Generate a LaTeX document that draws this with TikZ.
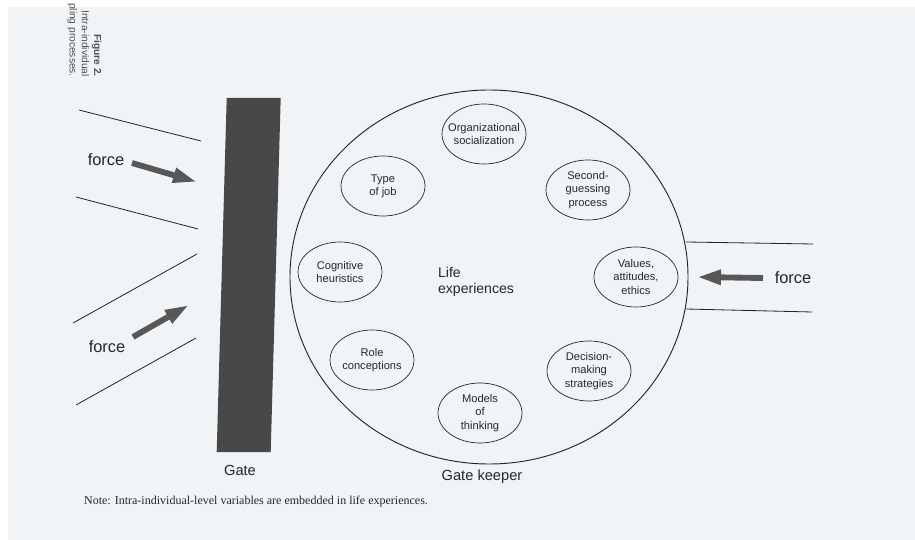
\documentclass[tikz,border=0pt]{standalone}
\usepackage{fontspec}
\setmainfont{Liberation Sans}
\newfontfamily\notefont{Liberation Serif}
\usetikzlibrary{shapes.geometric,arrows.meta}
\definecolor{paper}{RGB}{241,244,246}
\definecolor{ink}{RGB}{38,38,38}
\definecolor{gatefill}{RGB}{72,72,72}
\definecolor{forcefill}{RGB}{88,88,88}
\tikzset{
  factor/.style={draw=ink, ellipse, line width=0.6pt, minimum width=2.52cm, minimum height=1.8cm,
    inner xsep=-8pt, inner ysep=-4pt, align=center, text=ink, font=\fontsize{9.5}{11.3}\selectfont},
  wall/.style={draw=ink, line width=0.7pt},
  push/.style={draw=forcefill, line width=5pt, -{Triangle[length=0.72cm,width=0.42cm]}},
  forcetext/.style={text=ink, font=\fontsize{14}{16}\selectfont},
  bigtext/.style={text=ink, font=\fontsize{12.5}{15}\selectfont},
}
\begin{document}
\begin{tikzpicture}[x=0.03cm, y=-0.03cm]
  % page
  \useasboundingbox (0,0) rectangle (915,540);
  \fill[paper] (8,7) rectangle (915,540);
  % caption, turned on its side
  \node[rotate=-90, anchor=east, align=right, inner sep=0pt, text=ink!80,
        font=\fontsize{8.7}{10.4}\selectfont] (caption) at (84.5,77)
        {\textbf{Figure 2.}\\Intra-individual\\pling processes.};
  % gate
  \fill[gatefill] (226.7,98) -- (280.7,98) -- (270.7,452) -- (216.7,452) -- cycle;
  \node[bigtext] (gate) at (240,470) {Gate};
  % forces from the left
  \draw[wall] (79,110) -- (201,141)  (76,197) -- (198,229)
              (73,323) -- (197,254)  (76,405) -- (196,338);
  \draw[push] (132,163) -- (197,182);
  \draw[push] (133,337) -- (189,305);
  \node[forcetext] (forceup) at (106,160) {force};
  \node[forcetext] (forcelow) at (107,347) {force};
  % gate keeper
  \node[draw=ink, ellipse, line width=0.8pt, minimum width=11.94cm, minimum height=11.22cm] (keeper) at (489,277) {};
  \node[bigtext] (keepername) at (482,477) {Gate keeper};
  \node[text=ink, anchor=west, align=left, font=\fontsize{12}{13.6}\selectfont] (life) at (434,282) {Life\\experiences};
  \node[factor] (orgsoc) at (484,134) {Organizational\\socialization};
  \node[factor] (job) at (383,186) {Type\\of job};
  \node[factor] (second) at (588,190) {Second-\\guessing\\process};
  \node[factor] (cognitive) at (340,272) {Cognitive\\heuristics};
  \node[factor] (values) at (636,277) {Values,\\attitudes,\\ethics};
  \node[factor] (role) at (372,360) {Role\\conceptions};
  \node[factor] (decision) at (589,371) {Decision-\\making\\strategies};
  \node[factor] (models) at (480,413) {Models\\of\\thinking};
  % force from the right
  \draw[wall] (686,242) -- (813,244)  (686,309) -- (812,312);
  \draw[push] (763,278) -- (697,277);
  \node[forcetext] (forceright) at (793,278) {force};
  % note
  \node[anchor=west, text=ink, font=\notefont\fontsize{10.25}{12}\selectfont] (note) at (80,502)
    {Note: Intra-individual-level variables are embedded in life experiences.};
\end{tikzpicture}
\end{document}
